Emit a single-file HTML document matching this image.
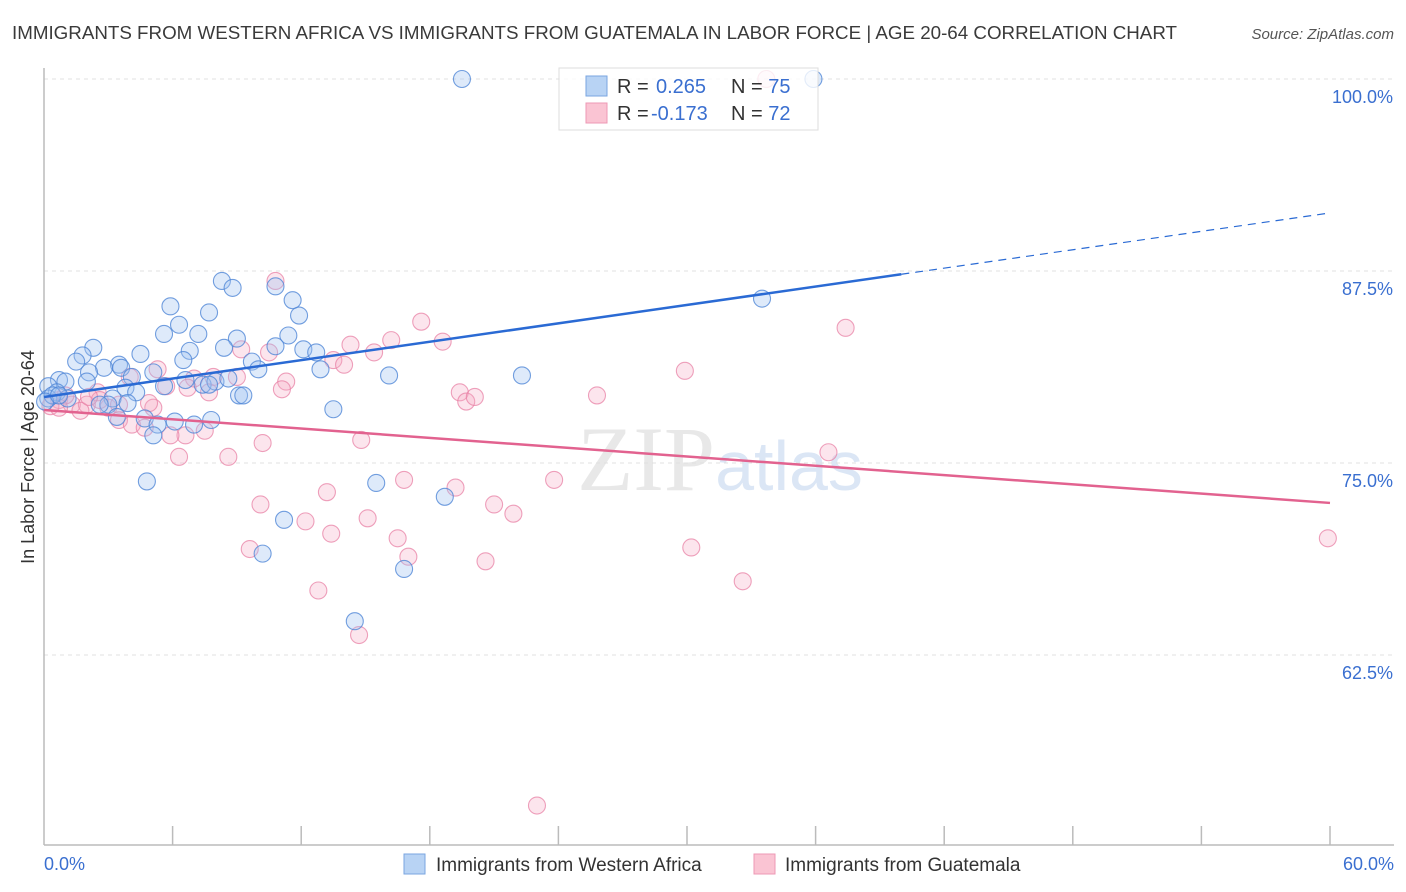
<!DOCTYPE html>
<html><head><meta charset="utf-8"><style>
body{margin:0;background:#fff;font-family:"Liberation Sans",sans-serif;}
svg{display:block}
</style></head><body>
<svg id="c" width="1406" height="892" xmlns="http://www.w3.org/2000/svg">
<text x="12" y="39" font-size="18.8" fill="#3a3a3a" textLength="1165" lengthAdjust="spacingAndGlyphs">IMMIGRANTS FROM WESTERN AFRICA VS IMMIGRANTS FROM GUATEMALA IN LABOR FORCE | AGE 20-64 CORRELATION CHART</text>
<text x="1394" y="39" font-size="15" font-style="italic" fill="#555" text-anchor="end">Source: ZipAtlas.com</text>
<text x="720" y="490" font-size="92" fill="#e8e8e8" text-anchor="middle" font-family="Liberation Serif,serif">ZIP<tspan fill="#dbe6f5" font-family="Liberation Sans,sans-serif" font-size="70">atlas</tspan></text>
<g id="grid"></g>
<g id="axes"></g>
<g id="pts"></g>
<g id="trend"></g>
<text transform="translate(34,457) rotate(-90)" font-size="18" fill="#333" text-anchor="middle">In Labor Force | Age 20-64</text>
<g>
<rect x="559" y="68" width="259" height="62" fill="rgba(255,255,255,0.8)" stroke="#ddd"/>
<rect x="586" y="76" width="21" height="20" fill="#b8d3f4" stroke="#7aa6e0"/>
<rect x="586" y="103" width="21" height="20" fill="#fac4d3" stroke="#ee98b4"/>
<text x="617" y="93" font-size="20" fill="#333">R = <tspan x="656" fill="#3a6fd0">0.265</tspan><tspan x="731" fill="#333">N = </tspan><tspan fill="#3a6fd0">75</tspan></text>
<text x="617" y="120" font-size="20" fill="#333">R = <tspan x="651" fill="#3a6fd0">-0.173</tspan><tspan x="731" fill="#333">N = </tspan><tspan fill="#3a6fd0">72</tspan></text>
</g>
<g>
<rect x="404" y="854" width="21" height="20" fill="#b8d3f4" stroke="#7aa6e0"/>
<text x="436" y="871" font-size="19" fill="#333">Immigrants from Western Africa</text>
<rect x="754" y="854" width="21" height="20" fill="#fac4d3" stroke="#ee98b4"/>
<text x="785" y="871" font-size="19" fill="#333">Immigrants from Guatemala</text>
</g>
</svg>
<script>
const blueX=[19.5,35.9,8.3,8.8,10.8,5.9,11.6,7.7,11.9,6.3,5.6,7.2,11.4,9.0,2.3,4.5,1.8,6.8,8.4,10.8,12.1,12.7,1.5,3.5,6.5,2.8,2.1,3.6,5.1,9.7,10.0,12.9,16.1,22.3,0.7,1.0,0.2,2.0,4.1,3.8,5.6,7.4,8.0,8.6,0.6,4.3,0.2,1.1,3.2,3.0,3.9,9.1,9.3,13.5,3.4,4.7,5.3,6.1,7.0,7.8,5.1,4.8,15.5,18.7,11.2,10.2,16.8,14.5,33.5,0.4,0.05,0.7,2.6,7.7,6.6];
const blueY=[100,100,86.85,86.4,86.5,85.2,85.6,84.8,84.6,84.0,83.4,83.4,83.3,83.1,82.5,82.1,82.0,82.3,82.5,82.6,82.4,82.2,81.6,81.4,81.7,81.2,80.9,81.2,80.9,81.6,81.1,81.1,80.7,80.7,80.4,80.3,80.0,80.3,80.6,79.9,80.0,80.1,80.3,80.5,79.6,79.6,79.2,79.2,79.2,78.8,78.9,79.4,79.4,78.5,78.0,77.9,77.5,77.7,77.5,77.8,76.8,73.8,73.7,72.8,71.3,69.1,68.1,64.7,85.7,79.4,79.0,79.4,78.8,80.1,80.4];
const pinkX=[33.7,10.8,17.6,37.4,18.6,16.2,14.3,13.5,14.0,15.4,9.2,10.5,29.9,19.4,19.7,20.1,25.8,11.3,11.1,5.3,4.0,7.9,9.0,7.0,6.7,7.7,5.7,2.5,0.7,1.3,2.0,0.3,1.7,3.0,3.5,4.1,4.7,5.1,6.6,5.9,7.5,10.2,14.8,6.3,8.6,36.6,16.8,23.8,19.2,13.2,10.1,21.0,21.9,12.2,15.1,13.4,16.5,17.0,9.6,20.6,30.2,32.6,12.8,14.7,23.0,59.9,1.0,2.6,3.5,0.7,4.9,2.1];
const pinkY=[100,86.85,84.2,83.8,82.9,83.0,82.7,81.7,81.4,82.2,82.4,82.2,81.0,79.6,79.0,79.3,79.4,80.3,79.8,81.1,80.6,80.6,80.6,80.5,79.9,79.6,80.0,79.6,79.1,78.8,78.8,78.7,78.4,78.6,77.8,77.5,77.3,78.6,76.8,76.8,77.1,76.3,76.5,75.4,75.4,75.7,73.9,73.9,73.4,73.1,72.3,72.3,71.7,71.2,71.4,70.4,70.1,68.9,69.4,68.6,69.5,67.3,66.7,63.8,52.7,70.1,79.4,79.1,78.8,78.6,78.9,79.3];
const yTicks=[100,87.5,75,62.5];
const yTickLabels=["100.0%","87.5%","75.0%","62.5%"];
const xTicks=[0,6,12,18,24,30,36,42,48,54,60];
const blueTrend=[79.3,91.28];
const blueSolidEnd=40;
const pinkTrend=[78.45,72.4];

const NS="http://www.w3.org/2000/svg";
const X=v=>44+v/60*1286;
const Y=v=>79+(100-v)*15.36;
function mk(tag,attrs,parent){const e=document.createElementNS(NS,tag);for(const k in attrs)e.setAttribute(k,attrs[k]);parent.appendChild(e);return e;}
const grid=document.getElementById('grid'),axes=document.getElementById('axes'),pts=document.getElementById('pts'),trend=document.getElementById('trend');
yTicks.forEach((t,i)=>{
 const l=mk('line',{x1:44,x2:1394,y1:Y(t),y2:Y(t),stroke:'#e0e0e0','stroke-dasharray':'4,4'},grid);
 
 
 const tx=mk('text',{x:1393,y:Y(t)+24,'font-size':18,fill:'#3a6fd0','text-anchor':'end'},grid);
 tx.textContent=yTickLabels[i];
 
 
});
const ax=mk('line',{x1:44,x2:44,y1:68,y2:845,stroke:'#bbb','stroke-width':1.5},axes);


const bx=mk('line',{x1:44,x2:1394,y1:845,y2:845,stroke:'#bbb','stroke-width':1.5},axes);


xTicks.forEach(t=>{if(t===0)return;
 const l=mk('line',{x1:X(t),x2:X(t),y1:826,y2:845,stroke:'#bbb','stroke-width':1.5},axes);
 
 
});
const xl0=mk('text',{x:44,y:870,'font-size':18,fill:'#3a6fd0'},axes);xl0.textContent=xTicks[0].toFixed(1)+'%';


const xl1=mk('text',{x:1394,y:870,'font-size':18,fill:'#3a6fd0','text-anchor':'end'},axes);xl1.textContent=xTicks[xTicks.length-1].toFixed(1)+'%';


pinkX.forEach((x,i)=>{
 const c=mk('circle',{cx:X(x),cy:Y(pinkY[i]),r:8.5,fill:'rgba(246,170,196,0.3)',stroke:'rgba(232,130,165,0.75)','stroke-width':1.1},pts);
 
 
});
blueX.forEach((x,i)=>{
 const c=mk('circle',{cx:X(x),cy:Y(blueY[i]),r:8.5,fill:'rgba(160,196,240,0.35)',stroke:'rgba(80,135,215,0.8)','stroke-width':1.1},pts);
 
 
});
const bAt=x=>blueTrend[0]+(blueTrend[1]-blueTrend[0])*x/60;
const t1=mk('line',{x1:X(0),y1:Y(bAt(0)),x2:X(blueSolidEnd),y2:Y(bAt(blueSolidEnd)),stroke:'#2a6ad4','stroke-width':2.5},trend);


const t2=mk('line',{x1:X(blueSolidEnd),y1:Y(bAt(blueSolidEnd)),x2:X(60),y2:Y(bAt(60)),stroke:'#2a6ad4','stroke-width':1.2,'stroke-dasharray':'8,6'},trend);


const t3=mk('line',{x1:X(0),y1:Y(pinkTrend[0]),x2:X(60),y2:Y(pinkTrend[1]),stroke:'#e2628f','stroke-width':2.5},trend);


</script>
</body></html>
